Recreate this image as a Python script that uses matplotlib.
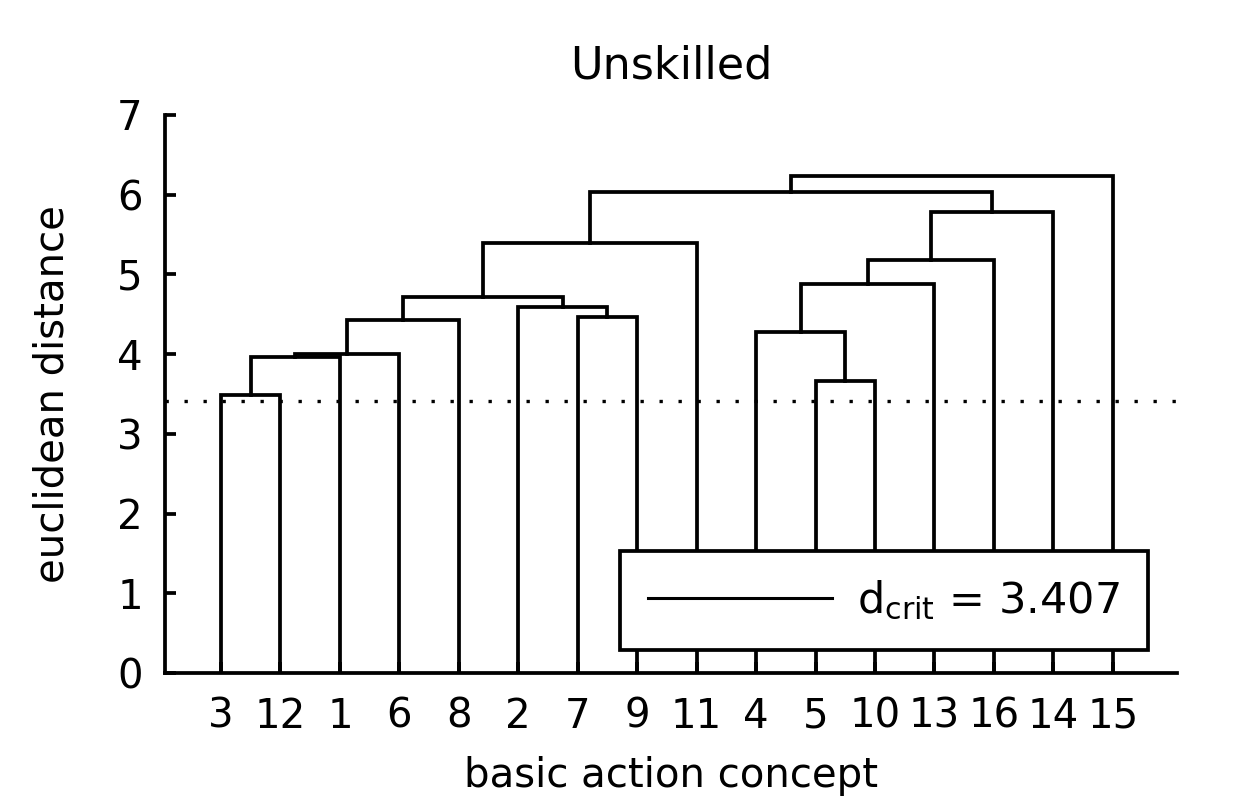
import matplotlib
matplotlib.use('Agg')
import matplotlib.pyplot as plt
from matplotlib.lines import Line2D

# ---- data ----
leaf_labels = [3, 12, 1, 6, 8, 2, 7, 9, 11, 4, 5, 10, 13, 16, 14, 15]
# merges (MATLAB-linkage style ids: leaves 1..16, new clusters 17..31)
merge_left = [3, 5, 17, 19, 4, 20, 7, 2, 22, 21, 26, 25, 27, 28, 30]
merge_right = [12, 10, 1, 6, 18, 8, 9, 23, 24, 13, 16, 11, 14, 29, 15]
merge_height = [3.49, 3.66, 3.96, 4.00, 4.28, 4.43, 4.46, 4.59, 4.72,
                4.88, 5.18, 5.40, 5.78, 6.03, 6.24]
d_crit = 3.407
y_ticks = [0, 1, 2, 3, 4, 5, 6, 7]

plt.rcParams['font.family'] = ['DejaVu Sans']
plt.rcParams['mathtext.fontset'] = 'dejavusans'

fig = plt.figure(figsize=(12.36, 8.01), dpi=100)
W, H = 1236, 801
ax = fig.add_axes([165 / W, 1 - 673 / H, 1012 / W, 558 / H])

n = len(leaf_labels)
pos = {lab: i + 1 for i, lab in enumerate(leaf_labels)}
hgt = {lab: 0.0 for lab in leaf_labels}
LW = 2.7
for k, (a, b, h) in enumerate(zip(merge_left, merge_right, merge_height)):
    cid = n + 1 + k
    xa, xb = pos[a], pos[b]
    ax.plot([xa, xa, xb, xb], [hgt[a], h, h, hgt[b]], color='black', lw=LW,
            solid_joinstyle='miter', solid_capstyle='projecting', zorder=2)
    pos[cid] = (xa + xb) / 2
    hgt[cid] = h

ax.axhline(d_crit, color='black', lw=2.4, linestyle=(0, (1, 4.7)),
           dash_capstyle='butt', zorder=1)

ax.set_xlim(0.058, 17.08)
ax.set_ylim(0, 7)
ax.set_xticks(range(1, n + 1))
ax.set_xticklabels([str(l) for l in leaf_labels])
ax.set_yticks(y_ticks)
ax.set_yticklabels([str(t) for t in y_ticks])

for s in ['top', 'right']:
    ax.spines[s].set_visible(False)
for s in ['left', 'bottom']:
    ax.spines[s].set_linewidth(LW)

ax.tick_params(axis='both', direction='in', length=8, width=LW, labelsize=29)
ax.tick_params(axis='y', pad=16)
ax.tick_params(axis='x', pad=17)

ax.set_xlabel('basic action concept', fontsize=29, labelpad=14)
ax.set_ylabel('euclidean distance', fontsize=29, labelpad=32)
ax.set_title('Unskilled', fontsize=32, pad=26)

leg = ax.legend(handles=[Line2D([], [], color='black', lw=2.2)],
                labels=[r'd$_{\mathregular{crit}}$ = 3.407'],
                loc='lower right', bbox_to_anchor=(0.9713, 0.0412),
                borderaxespad=0, fancybox=False, edgecolor='black',
                framealpha=1, fontsize=31, handlelength=4.27,
                handletextpad=0.58, borderpad=0.65)
leg.get_frame().set_linewidth(LW)

fig.savefig('out.png', dpi=100)
